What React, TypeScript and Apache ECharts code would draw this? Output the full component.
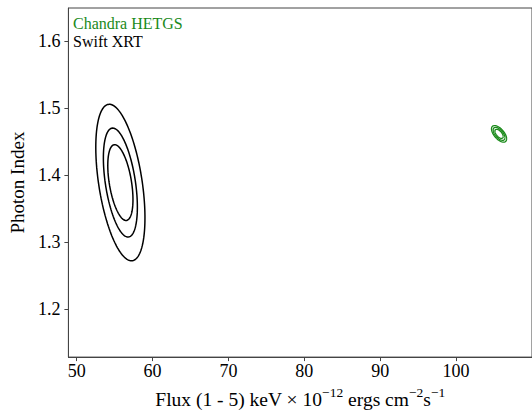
import React, { useEffect, useRef } from "react";
import * as echarts from "echarts";

// Axis ranges and ticks
const xRange = [48.9, 110];
const yRange = [1.128, 1.65];
const xTicks = [50, 60, 70, 80, 90, 100];
const yTicks = [1.2, 1.3, 1.4, 1.5, 1.6];

// Confidence contours (68%, 90%, 99%):
// centre, half-extent in flux, half-extent in photon index, correlation
const swiftCenter = [55.75, 1.389];
const swiftHalfFlux = [3.24, 2.24, 1.66];
const swiftHalfIndex = [0.117, 0.0815, 0.0567];
const swiftCorr = -0.45;

const chandraCenter = [105.66, 1.4618];
const chandraHalfFlux = [1.0, 0.78, 0.55];
const chandraHalfIndex = [0.0124, 0.0097, 0.0068];
const chandraCorr = -0.6;

const legendLabels = ["Chandra HETGS", "Swift XRT"];
const colors = { chandra: "#1a8a1a", swift: "#000000" };

const FONT = '"Liberation Serif", "DejaVu Serif", serif';

function contour(c: number[], hx: number, hy: number, rho: number) {
  const pts: number[][] = [];
  const n = 160;
  const k = Math.sqrt(1 - rho * rho);
  for (let i = 0; i <= n; i++) {
    const t = (i / n) * Math.PI * 2;
    pts.push([c[0] + hx * Math.cos(t), c[1] + hy * (rho * Math.cos(t) + k * Math.sin(t))]);
  }
  return pts;
}

export default function App() {
  const ref = useRef<HTMLDivElement>(null);
  useEffect(() => {
    if (!ref.current) return;
    const chart = echarts.init(ref.current, null, { renderer: "svg" });
    const series: any[] = [];
    swiftHalfFlux.forEach((hx, i) => {
      series.push({
        type: "line",
        name: "Swift XRT",
        data: contour(swiftCenter, hx, swiftHalfIndex[i], swiftCorr),
        showSymbol: false,
        symbol: "none",
        lineStyle: { color: colors.swift, width: 1.5 },
        silent: true,
      });
    });
    chandraHalfFlux.forEach((hx, i) => {
      series.push({
        type: "line",
        name: "Chandra HETGS",
        data: contour(chandraCenter, hx, chandraHalfIndex[i], chandraCorr),
        showSymbol: false,
        symbol: "none",
        lineStyle: { color: colors.chandra, width: 1.3 },
        silent: true,
      });
    });
    const axisColor = "#444";
    chart.setOption({
      animation: false,
      grid: {
        left: 63.3,
        top: 8,
        right: -9.8,
        bottom: 47,
        show: true,
        borderColor: axisColor,
        borderWidth: 1,
      },
      xAxis: {
        type: "value",
        min: xRange[0],
        max: xRange[1],
        axisLine: { show: true, lineStyle: { color: axisColor, width: 1 } },
        axisTick: { show: true, length: 4, customValues: xTicks, lineStyle: { color: axisColor } },
        axisLabel: {
          customValues: xTicks,
          margin: 5,
          color: "#000",
          fontSize: 18,
          fontFamily: FONT,
        },
        splitLine: { show: false },
        name: "{a|Flux (1 - 5) keV × 10}{s|−12}{a| ergs cm}{s|−2}{a|s}{s|−1}",
        nameLocation: "middle",
        nameGap: 23.5,
        nameTextStyle: {
          rich: {
            a: { fontSize: 19.5, fontFamily: FONT, color: "#000", lineHeight: 24, verticalAlign: "bottom" },
            s: { fontSize: 13.5, fontFamily: FONT, color: "#000", lineHeight: 6, verticalAlign: "top" },
          },
        },
      },
      yAxis: {
        type: "value",
        min: yRange[0],
        max: yRange[1],
        axisLine: { show: true, lineStyle: { color: axisColor, width: 1 } },
        axisTick: { show: true, length: 4, customValues: yTicks, lineStyle: { color: axisColor } },
        axisLabel: {
          customValues: yTicks,
          margin: 8,
          color: "#000",
          fontSize: 18,
          fontFamily: FONT,
          formatter: (v: number) => v.toFixed(1),
        },
        splitLine: { show: false },
        name: "Photon Index",
        nameLocation: "middle",
        nameGap: 33,
        nameTextStyle: { fontSize: 19, fontFamily: FONT, color: "#000" },
      },
      graphic: [
        {
          type: "text",
          left: 73,
          top: 16,
          style: {
            text: `{g|${legendLabels[0]}}\n{k|${legendLabels[1]}}`,
            rich: {
              g: { fill: colors.chandra, fontSize: 16, fontFamily: FONT, lineHeight: 17.8 },
              k: { fill: colors.swift, fontSize: 16, fontFamily: FONT, lineHeight: 17.8 },
            },
          },
        },
      ],
      series,
    });
    return () => chart.dispose();
  }, []);
  return (
    <div
      ref={ref}
      style={{ position: "absolute", left: 0, top: 0, width: 532, height: 414 }}
    />
  );
}
